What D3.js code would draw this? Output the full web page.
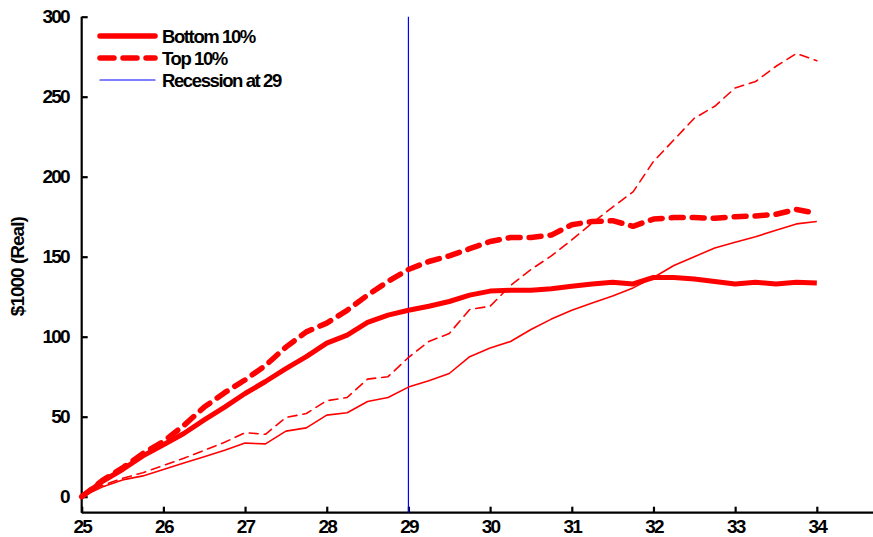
<!DOCTYPE html>
<html>
<head>
<meta charset="utf-8">
<script src="https://cdn.jsdelivr.net/npm/d3@7"></script>
<style>
  html, body { margin: 0; padding: 0; background: #fff; }
  svg { display: block; }
  text { font-family: "Liberation Sans", Arial, sans-serif; fill: #000; }
</style>
</head>
<body>
<svg id="chart" width="873" height="537"></svg>
<script>
// Quarterly ages 25 .. 34
const ages = d3.range(0, 37).map(i => 25 + i * 0.25);

const bottom10 = [0, 9.5, 17, 25.5, 32.5, 39.5, 48, 56, 64.5, 72, 80, 87.5, 96, 101, 109, 113.5, 116.5, 119, 122, 126, 128.5, 129, 129, 130, 131.5, 133, 134, 133, 137, 137, 136, 134.5, 133, 134, 133, 134, 133.5];
const top10 = [0, 10, 18, 27, 34.5, 44.5, 56, 65, 73, 82, 93.5, 103, 108.5, 116.5, 126, 134.5, 142, 147, 150.5, 155, 159.5, 162, 162, 163.5, 170, 172, 172.5, 169, 173.5, 174.5, 174.5, 174, 175, 175.5, 176.5, 179.5, 177];
const bottom10Base = [0, 6, 10.5, 13, 17, 21, 25, 29, 33.5, 33, 41, 43, 51, 52.5, 59.5, 62, 68.5, 72.5, 77, 87.5, 93, 97, 104.5, 111, 116.5, 121, 125.5, 130.5, 137, 144.5, 150, 155.5, 159, 162.5, 166.5, 170.5, 172];
const top10Base = [0, 7, 11.5, 15, 19.5, 24, 29, 34, 40, 39, 49.5, 52, 60, 62, 73.5, 75, 87, 97, 102, 117, 119, 132, 142, 150.5, 160.5, 171, 181, 190.5, 209.5, 223, 236.5, 244, 255.5, 259.5, 269, 277, 272.5];

const xTicks = [25, 26, 27, 28, 29, 30, 31, 32, 33, 34];
const yTicks = [0, 50, 100, 150, 200, 250, 300];
const recessionAge = 29;

const legendLabels = ["Bottom 10%", "Top 10%", "Recession at 29"];

const svg = d3.select("#chart");
const plotLeft = 81.7, plotRight = 874, plotTop = 16.7, plotBottom = 512.7;

const x = d3.scaleLinear().domain([25, 34.7]).range([plotLeft, plotRight]);
const y = d3.scaleLinear().domain([-10, 300]).range([plotBottom, plotTop]);

// Axes
const xAxis = d3.axisBottom(x).tickValues(xTicks).tickSize(-6).tickPadding(7).tickFormat(d3.format("d"));
const yAxis = d3.axisLeft(y).tickValues(yTicks).tickSize(-6).tickPadding(13).tickFormat(d3.format("d"));

const gx = svg.append("g").attr("transform", `translate(0,${plotBottom})`).call(xAxis);
const gy = svg.append("g").attr("transform", `translate(${plotLeft},0)`).call(yAxis);

[gx, gy].forEach(g => {
  g.select(".domain").attr("stroke", "#000").attr("stroke-width", 2.2);
  g.selectAll(".tick line").attr("stroke", "#000").attr("stroke-width", 2.2);
  g.selectAll(".tick text")
    .style("font-family", "'Liberation Sans', Arial, sans-serif")
    .style("font-size", "19px")
    .style("font-weight", "bold")
    .style("letter-spacing", "-1.8px")
    .attr("fill", "#000");
});
gx.select(".domain").attr("d", `M${plotLeft},0H${plotRight}`);
gy.select(".domain").attr("d", `M0,${plotBottom}V${plotTop}`);
gx.selectAll(".tick text").attr("dy", "0.71em");

// Y axis title
svg.append("text")
  .attr("transform", `translate(24,${(plotTop + plotBottom) / 2 + 2}) rotate(-90)`)
  .attr("text-anchor", "middle")
  .style("font-size", "19px")
  .style("font-weight", "bold")
  .style("letter-spacing", "-1px")
  .text("$1000 (Real)");

// Recession marker
svg.append("line")
  .attr("x1", x(recessionAge)).attr("x2", x(recessionAge))
  .attr("y1", plotTop).attr("y2", plotBottom)
  .attr("stroke", "#0000ff").attr("stroke-width", 1.2);

const line = d3.line().x((d, i) => x(ages[i])).y(d => y(d));

const series = [
  { data: bottom10Base, width: 1.6, dash: null },
  { data: top10Base, width: 1.6, dash: "9,6" },
  { data: bottom10, width: 5, dash: null },
  { data: top10, width: 5.5, dash: "12,9" }
];

series.forEach(s => {
  svg.append("path")
    .datum(s.data)
    .attr("d", line)
    .attr("fill", "none")
    .attr("stroke", "#ff0000")
    .attr("stroke-width", s.width)
    .attr("stroke-linejoin", "round")
    .attr("stroke-linecap", s.dash ? "round" : "butt")
    .attr("stroke-dasharray", s.dash);
});

// Legend
const legendItems = [
  { label: legendLabels[0], color: "#ff0000", width: 5.5, dash: null, y: 36 },
  { label: legendLabels[1], color: "#ff0000", width: 5.5, dash: "14,9", y: 58 },
  { label: legendLabels[2], color: "#0000ff", width: 1.2, dash: null, y: 80 }
];
const lg = svg.append("g");
legendItems.forEach(it => {
  lg.append("line")
    .attr("x1", 100).attr("x2", 155)
    .attr("y1", it.y).attr("y2", it.y)
    .attr("stroke", it.color)
    .attr("stroke-width", it.width)
    .attr("stroke-linecap", "round")
    .attr("stroke-dasharray", it.dash);
  lg.append("text")
    .attr("x", 162).attr("y", it.y)
    .attr("dy", "0.36em")
    .style("font-size", "18.5px")
    .style("letter-spacing", "-1.4px")
    .style("font-weight", "bold")
    .text(it.label);
});
</script>
</body>
</html>
